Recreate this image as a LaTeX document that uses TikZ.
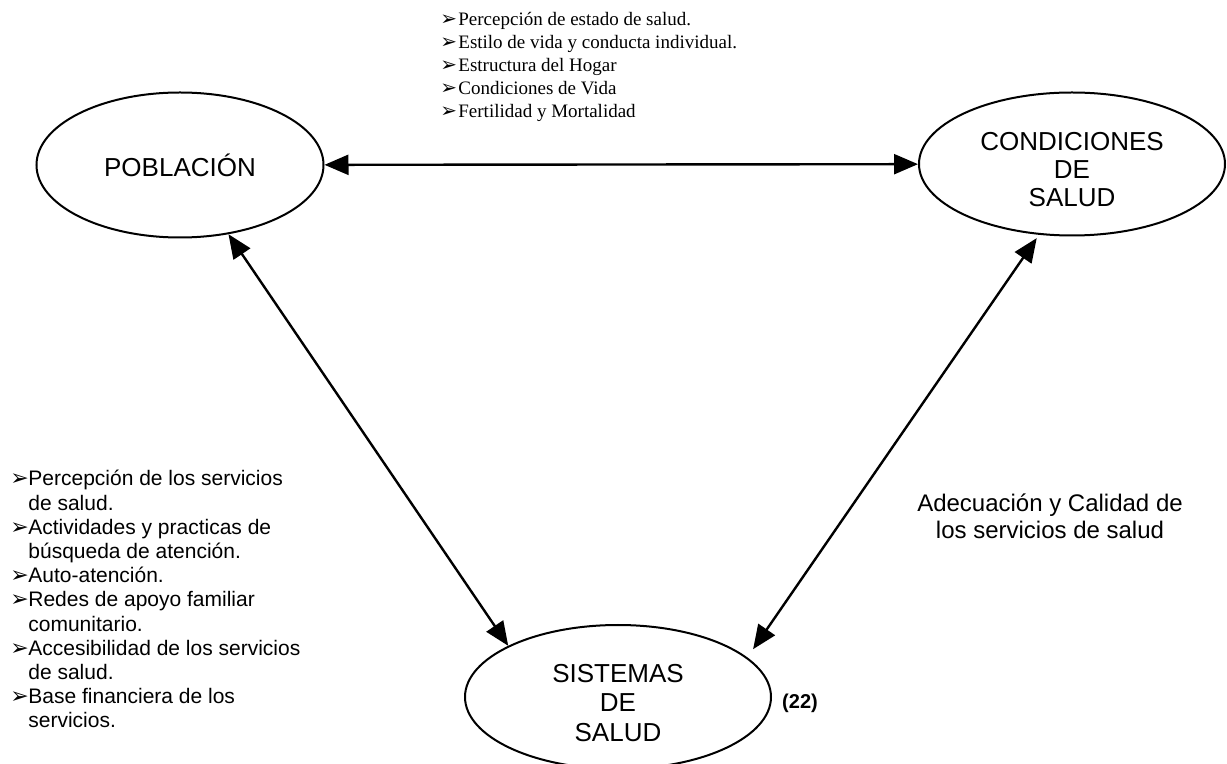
\documentclass[tikz,border=0pt]{standalone}
\usepackage{fontspec}
\setmainfont{Liberation Sans}
\newfontfamily\romanfont{Liberation Serif}
\newfontfamily\arrowfont[Scale=1.05]{DejaVu Sans}
\usetikzlibrary{shapes.geometric,arrows.meta}
\newcommand\pnt{\makebox[9pt][l]{\arrowfont ➢}}
\newcommand\cnt{\hspace*{9pt}}
\newcommand\lift{\rule{0pt}{15pt}}

\begin{document}
\begin{tikzpicture}[x=0.5pt, y=-0.5pt,
    blob/.style={draw, ellipse, line width=1pt, inner sep=0pt, align=center,
      font=\fontsize{13}{14}\selectfont},
    link/.style={{Triangle[length=12pt,width=10pt]}-{Triangle[length=12pt,width=10pt]}, line width=1.2pt},
    list/.style={inner sep=0pt, anchor=north west, align=left}]
  \useasboundingbox (0,0) rectangle (1227,764);
  \node[blob, minimum width=143.5pt, minimum height=72.5pt] (pob) at (180,165) {POBLACIÓN};
  \node[blob, minimum width=153pt, minimum height=71.5pt] (cond) at (1072,164) {\lift CONDICIONES\\DE\\SALUD};
  \node[blob, minimum width=153pt, minimum height=72pt, font=\fontsize{13}{14.6}\selectfont] (sis) at (618,697) {\lift SISTEMAS\\DE\\SALUD};
  \draw[link] (pob) -- (cond);
  \draw[link] (pob.-55) -- (sis.155);
  \draw[link, shorten <=2pt, shorten >=5pt] (cond.-115) -- (sis.17);
  \node[list, font=\romanfont\fontsize{9.5}{11.5}\selectfont] (factores) at (440,12) {
    \pnt Percepción de estado de salud.\\
    \pnt Estilo de vida y conducta individual.\\
    \pnt Estructura del Hogar\\
    \pnt Condiciones de Vida\\
    \pnt Fertilidad y Mortalidad};
  \node[list, font=\fontsize{10.5}{12.1}\selectfont] (servicios) at (10,470) {
    \pnt Percepción de los servicios\\
    \cnt de salud.\\
    \pnt Actividades y practicas de\\
    \cnt búsqueda de atención.\\
    \pnt Auto-atención.\\
    \pnt Redes de apoyo familiar\\
    \cnt comunitario.\\
    \pnt Accesibilidad de los servicios\\
    \cnt de salud.\\
    \pnt Base financiera de los\\
    \cnt servicios.};
  \node[align=center, inner sep=0pt, font=\fontsize{12}{13.5}\selectfont] (calidad) at (1050,516) {Adecuación y Calidad de\\los servicios de salud};
  \node[inner sep=0pt, font=\fontsize{10}{12}\selectfont\bfseries] (ref) at (800,703) {(22)};
\end{tikzpicture}
\end{document}
